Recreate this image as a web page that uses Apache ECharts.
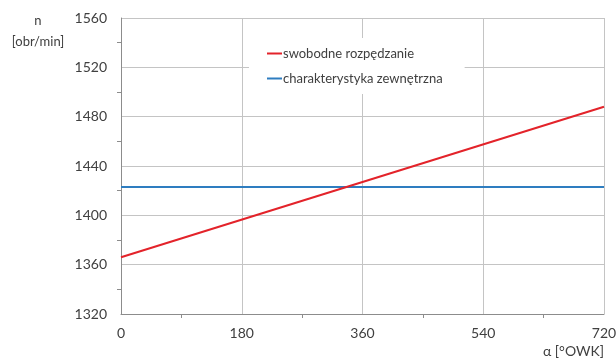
<!DOCTYPE html>
<html>
<head>
<meta charset="utf-8">
<script src="https://cdn.jsdelivr.net/npm/echarts@6/dist/echarts.min.js"></script>
<style>
  html, body { margin: 0; padding: 0; background: #fff; }
  #chart { width: 616px; height: 361px; }
</style>
</head>
<body>
<div id="chart"></div>
<script>
// kąt obrotu wału [°OWK]
var alpha = [0, 720];
// prędkość obrotowa [obr/min]
var swobodne = [1366, 1488];
var zewnetrzna = [1423, 1423];
var seriesNames = ['swobodne rozpędzanie', 'charakterystyka zewnętrzna'];

var font = 'Lato, "Open Sans", sans-serif';
var textColor = '#404040';

function pairs(xs, ys) {
    return xs.map(function (x, i) { return [x, ys[i]]; });
}

var chart = echarts.init(document.getElementById('chart'));
chart.setOption({
    animation: false,
    textStyle: { fontFamily: font, color: textColor },
    grid: { left: 121, right: 12, top: 18, bottom: 47, containLabel: false, outerBoundsMode: 'none' },
    legend: {
        orient: 'vertical',
        left: 249,
        top: 38,
        padding: [9, 22, 9, 18],
        backgroundColor: '#fff',
        itemWidth: 15,
        itemHeight: 2,
        itemGap: 12,
        icon: 'rect',
        textStyle: { fontFamily: font, fontSize: 13, color: textColor, padding: [0, 0, 0, -4] },
        data: seriesNames
    },
    xAxis: {
        type: 'value',
        min: 0, max: 720, interval: 180,
        name: 'α [°OWK]',
        nameLocation: 'end',
        nameGap: 0,
        nameMoveOverlap: false,
        nameTextStyle: { fontSize: 14, color: textColor, align: 'right', verticalAlign: 'top', padding: [30, 0, 0, 0] },
        axisLine: { show: true, lineStyle: { color: '#8c8c8c', width: 1 } },
        axisTick: { show: false },
        minorTick: { show: true, splitNumber: 2, length: 4, lineStyle: { color: '#8c8c8c' } },
        axisLabel: { fontSize: 14, color: textColor, margin: 12, formatter: function (v) { return String(v); } },
        splitLine: { show: true, lineStyle: { color: '#c4c4c4', width: 1 } }
    },
    yAxis: {
        type: 'value',
        min: 1320, max: 1560, interval: 40,
        name: 'n\n[obr/min]',
        nameLocation: 'end',
        nameGap: -34,
        nameMoveOverlap: false,
        nameTextStyle: { fontSize: 13, color: textColor, align: 'center', lineHeight: 21, padding: [0, 0, 0, -166] },
        axisLine: { show: true, lineStyle: { color: '#8c8c8c', width: 1 } },
        axisTick: { show: false },
        minorTick: { show: true, splitNumber: 2, length: 4, lineStyle: { color: '#8c8c8c' } },
        axisLabel: { fontSize: 14, color: textColor, margin: 14, formatter: function (v) { return String(v); } },
        splitLine: { show: true, lineStyle: { color: '#c4c4c4', width: 1 } }
    },
    series: [
        {
            name: seriesNames[0],
            type: 'line',
            data: pairs(alpha, swobodne),
            symbol: 'none',
            lineStyle: { color: '#e3232a', width: 2 },
            itemStyle: { color: '#e3232a' },
            z: 3
        },
        {
            name: seriesNames[1],
            type: 'line',
            data: pairs(alpha, zewnetrzna),
            symbol: 'none',
            lineStyle: { color: '#2e7dc0', width: 2 },
            itemStyle: { color: '#2e7dc0' },
            z: 2
        }
    ]
});
</script>
</body>
</html>
